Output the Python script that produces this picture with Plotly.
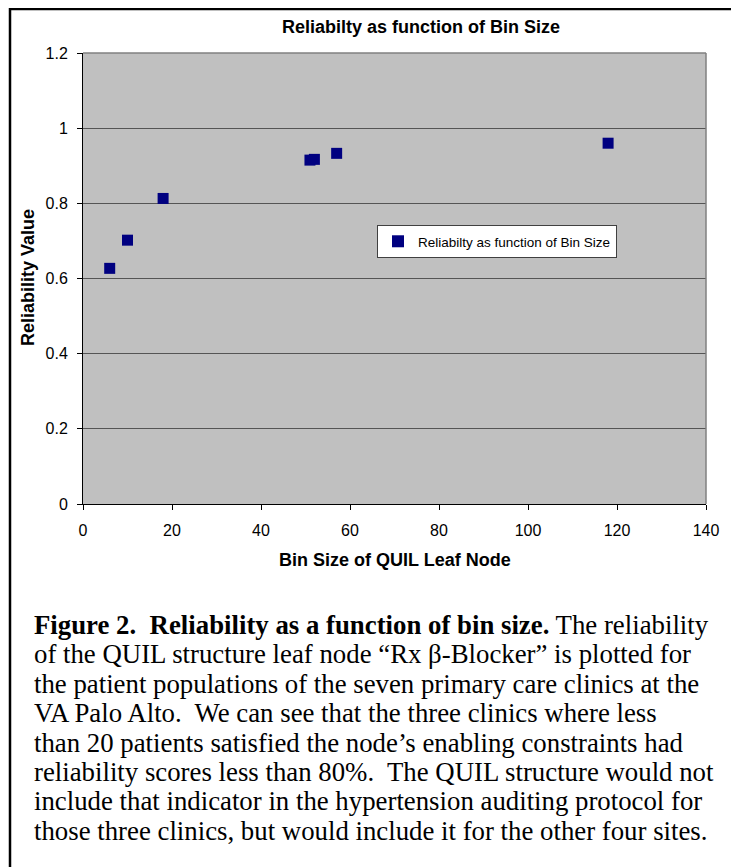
import plotly.graph_objects as go

# ---- data ----
bin_size = [6, 10, 18, 51, 52, 57, 118]
reliability = [0.627, 0.702, 0.813, 0.915, 0.917, 0.933, 0.960]
series_name = "Reliabilty as function of Bin Size"
chart_title = "Reliabilty as function of Bin Size"
x_title = "Bin Size of QUIL Leaf Node"
y_title = "Reliability Value"
x_ticks = [0, 20, 40, 60, 80, 100, 120, 140]
y_ticks = [0, 0.2, 0.4, 0.6, 0.8, 1.0, 1.2]
y_tick_text = ["0", "0.2", "0.4", "0.6", "0.8", "1", "1.2"]
caption_lines = [
    "<b>Figure 2.\u00a0 Reliability as a function of bin size.</b> The reliability",
    "of the QUIL structure leaf node \u201cRx \u03b2-Blocker\u201d is plotted for",
    "the patient populations of the seven primary care clinics at the",
    "VA Palo Alto.\u00a0 We can see that the three clinics where less",
    "than 20 patients satisfied the node\u2019s enabling constraints had",
    "reliability scores less than 80%.\u00a0 The QUIL structure would not",
    "include that indicator in the hypertension auditing protocol for",
    "those three clinics, but would include it for the other four sites.",
]

OFF = 8                      # page body margin
W, H = 739 - OFF, 867 - OFF  # figure size
# plot area in screen pixels
SL, SR, ST, SB = 83, 706, 53, 504
L, R, T, B = SL - OFF, SR - OFF, ST - OFF, SB - OFF
pw, ph = R - L, B - T

def px(x):  # screen x -> paper
    return (x - OFF - L) / pw

def py(y):  # screen y -> paper
    return (B - (y - OFF)) / ph

SANS = "Liberation Sans, Arial, sans-serif"
SERIF = "Liberation Serif, Times New Roman, serif"

fig = go.Figure()
fig.add_trace(go.Scatter(
    x=bin_size, y=reliability, mode="markers", name=series_name,
    marker=dict(symbol="square", size=11, color="#000080", line=dict(width=0)),
))

fig.update_layout(
    width=W, height=H,
    margin=dict(l=L, r=W - R, t=T, b=H - B, pad=0),
    paper_bgcolor="white",
    plot_bgcolor="#C0C0C0",
    showlegend=True,
    title=dict(text="<b>" + chart_title + "</b>", x=px(421), xanchor="center",
               xref="paper", y=1 - (27 - OFF) / H, yref="container", yanchor="middle",
               font=dict(family=SANS, size=18, color="black")),
    legend=dict(x=px(377), y=py(225), xanchor="left", yanchor="top",
                bgcolor="white", bordercolor="#404040", borderwidth=1,
                font=dict(family=SANS, size=13.5, color="black"),
                itemsizing="constant"),
    xaxis=dict(range=[0, 140], tickvals=x_ticks, showgrid=False, zeroline=False,
               showline=True, linecolor="black", linewidth=1,
               ticks="outside", ticklen=5, tickcolor="black",
               ticklabelstandoff=7,
               tickfont=dict(family=SANS, size=16, color="black")),
    yaxis=dict(range=[0, 1.2], tickvals=y_ticks, ticktext=y_tick_text,
               showgrid=True, gridcolor="#555555", gridwidth=1, zeroline=False,
               showline=True, linecolor="black", linewidth=1,
               ticks="outside", ticklen=5, tickcolor="black",
               ticklabelstandoff=6,
               tickfont=dict(family=SANS, size=16, color="black")),
)

# gray top and right frame of plot area
fig.add_shape(type="line", xref="paper", yref="paper", x0=0, x1=1, y0=1, y1=1,
              line=dict(color="#808080", width=1.5))
fig.add_shape(type="line", xref="paper", yref="paper", x0=1, x1=1, y0=0, y1=1,
              line=dict(color="#808080", width=1.5))

# outer border box
fig.add_shape(type="rect", xref="paper", yref="paper",
              x0=px(10), x1=px(734), y0=py(9), y1=py(890),
              line=dict(color="black", width=2.5), layer="below")

# axis titles
fig.add_annotation(text="<b>" + x_title + "</b>", xref="paper", yref="paper",
                   x=px((SL + SR) / 2), y=py(560), xanchor="center", yanchor="middle",
                   showarrow=False, font=dict(family=SANS, size=18, color="black"))
fig.add_annotation(text="<b>" + y_title + "</b>", xref="paper", yref="paper",
                   x=px(28), y=py(278), xanchor="center", yanchor="middle", textangle=-90,
                   showarrow=False, font=dict(family=SANS, size=18, color="black"))

# caption
for i, line in enumerate(caption_lines):
    fig.add_annotation(text=line, xref="paper", yref="paper",
                       x=px(32), y=py(625 + 29.4 * i), xanchor="left", yanchor="middle",
                       showarrow=False, align="left",
                       font=dict(family=SERIF, size=26.8, color="black"))

fig.write_html("out.html")
